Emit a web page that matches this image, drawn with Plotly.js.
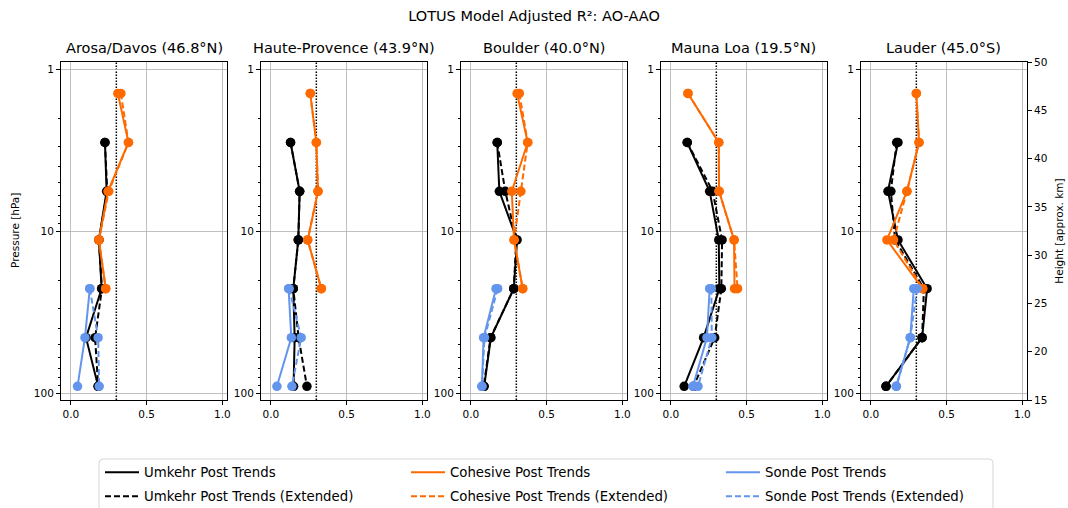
<!DOCTYPE html>
<html><head><meta charset="utf-8">
<script src="https://cdn.plot.ly/plotly-3.0.1.min.js"></script>
<style>html,body{margin:0;padding:0;background:#fff}#chart{width:1068px;height:508px}</style>
</head><body><div id="chart"></div>
<script>
// ---- data ----
const stations = ["Arosa/Davos (46.8°N)", "Haute-Provence (43.9°N)", "Boulder (40.0°N)", "Mauna Loa (19.5°N)", "Lauder (45.0°S)"];
const pressure = [1.41, 2.83, 5.66, 11.3, 22.6, 45.3, 90.5];
const umkehr = [
  [null, 0.225, 0.236, 0.185, 0.203, 0.100, 0.180],
  [null, 0.130, 0.190, 0.181, 0.148, 0.157, 0.150],
  [null, 0.174, 0.188, 0.305, 0.283, 0.132, 0.088],
  [null, 0.108, 0.256, 0.316, 0.320, 0.216, 0.088],
  [null, 0.179, 0.113, 0.179, 0.371, 0.338, 0.100]
];
const umkehrExt = [
  [null, 0.225, 0.240, 0.185, 0.205, 0.160, 0.180],
  [null, 0.130, 0.190, 0.181, 0.148, 0.183, 0.238],
  [null, 0.174, 0.227, 0.300, 0.283, 0.130, 0.085],
  [null, 0.108, 0.276, 0.338, 0.333, 0.289, 0.150],
  [null, 0.170, 0.132, 0.160, 0.350, 0.338, 0.100]
];
const cohesive = [
  [0.310, 0.380, 0.245, 0.185, 0.230, null, null],
  [0.260, 0.300, 0.311, 0.243, 0.333, null, null],
  [0.305, 0.375, 0.270, 0.285, 0.342, null, null],
  [0.113, 0.316, 0.318, 0.417, 0.420, null, null],
  [0.300, 0.318, 0.238, 0.106, 0.342, null, null]
];
const cohesiveExt = [
  [0.330, 0.380, 0.250, 0.185, 0.230, null, null],
  [0.260, 0.300, 0.311, 0.243, 0.333, null, null],
  [0.320, 0.375, 0.330, 0.285, 0.342, null, null],
  [0.113, 0.316, 0.318, 0.417, 0.440, null, null],
  [0.300, 0.318, 0.238, 0.150, 0.342, null, null]
];
const sonde = [
  [null, null, null, null, 0.125, 0.093, 0.044],
  [null, null, null, null, 0.117, 0.135, 0.040],
  [null, null, null, null, 0.166, 0.084, 0.073],
  [null, null, null, null, 0.256, 0.238, 0.146],
  [null, null, null, null, 0.283, 0.260, 0.168]
];
const sondeExt = [
  [null, null, null, null, 0.125, 0.180, 0.187],
  [null, null, null, null, 0.121, 0.200, 0.139],
  [null, null, null, null, 0.177, 0.090, 0.073],
  [null, null, null, null, 0.267, 0.270, 0.179],
  [null, null, null, null, 0.305, 0.260, 0.168]
];
const threshold = 0.3;
const heightRange = [15, 50];
const xTicks = [0, 0.5, 1.0];
const xTickText = ["0.0", "0.5", "1.0"];
const pTicks = [1, 10, 100];
const pTickText = ["1", "10", "100"];

// ---- style ----
const FONT = "DejaVu Sans, sans-serif";
const C_UMK = "#000000", C_COH = "#ff6a00", C_SON = "#6495ed";
const DASH = "6px,3px";
const series = [
  {data: umkehr,      name: "Umkehr Post Trends",              color: C_UMK, dash: "solid", col: 0, row: 0},
  {data: umkehrExt,   name: "Umkehr Post Trends (Extended)",   color: C_UMK, dash: DASH,    col: 0, row: 1},
  {data: cohesive,    name: "Cohesive Post Trends",            color: C_COH, dash: "solid", col: 1, row: 0},
  {data: cohesiveExt, name: "Cohesive Post Trends (Extended)", color: C_COH, dash: DASH,    col: 1, row: 1},
  {data: sonde,       name: "Sonde Post Trends",               color: C_SON, dash: "solid", col: 2, row: 0},
  {data: sondeExt,    name: "Sonde Post Trends (Extended)",    color: C_SON, dash: DASH,    col: 2, row: 1}
];

const W = 1068, H = 508;
const plotTop = 62, plotBot = 400, panelW = 166, panelStep = 200, firstLeft = 61;
const yDom = [1 - plotBot / H, 1 - plotTop / H];
const legendColX = [105, 411, 726];   // px, start of legend line sample
const legendRowY = [471, 495];        // px, centre of legend rows

const traces = [];
stations.forEach((st, i) => {
  const sfx = i === 0 ? "" : String(i + 1);
  series.forEach(s => {
    traces.push({
      x: s.data[i], y: pressure, xaxis: "x" + sfx, yaxis: "y" + sfx,
      type: "scatter", mode: "lines+markers", name: s.name, showlegend: false,
      line: {color: s.color, width: 2, dash: s.dash},
      marker: {color: s.color, size: 9.5},
      connectgaps: false, hoverinfo: "x+y+name"
    });
  });
});

const layout = {
  width: W, height: H, margin: {l: 0, r: 0, t: 0, b: 0, autoexpand: false},
  paper_bgcolor: "#fff", plot_bgcolor: "#fff",
  font: {family: FONT, size: 10.5, color: "#000"},
  title: {text: "LOTUS Model Adjusted R²: AO-AAO", x: 0.5, xref: "container", xanchor: "center",
          y: 1 - 16 / H, yref: "container", yanchor: "middle", font: {size: 14.5, family: FONT, color: "#000"}},
  showlegend: true,
  annotations: [], shapes: []
};

// legend entries: one small legend per entry, laid out as 3 columns x 2 rows
series.forEach((s, k) => {
  const lname = k === 0 ? "legend" : "legend" + (k + 1);
  traces.push({
    x: [null], y: [null], xaxis: "x", yaxis: "y", type: "scatter", mode: "lines",
    name: s.name, showlegend: true, legend: lname,
    line: {color: s.color, width: 2, dash: s.dash}, hoverinfo: "skip"
  });
  layout[lname] = {
    x: (legendColX[s.col] - 5) / W, xanchor: "left",
    y: 1 - (legendRowY[s.row] - 14) / H, yanchor: "top",
    borderwidth: 0, bgcolor: "rgba(0,0,0,0)", itemwidth: 34,
    font: {size: 13.3, family: FONT, color: "#000"}
  };
});
// legend frame (rounded box as in the reference)
(function () {
  const x0 = 99 / W, x1 = 993 / W, y1 = 1 - 459 / H, y0 = -0.05;
  const rx = 4 / W, ry = 4 / H;
  layout.shapes.push({
    type: "path", xref: "paper", yref: "paper", layer: "below",
    path: `M ${x0 + rx} ${y1} L ${x1 - rx} ${y1} Q ${x1} ${y1} ${x1} ${y1 - ry} L ${x1} ${y0} L ${x0} ${y0} L ${x0} ${y1 - ry} Q ${x0} ${y1} ${x0 + rx} ${y1} Z`,
    line: {color: "#d6d6d6", width: 1}, fillcolor: "rgba(255,255,255,0.8)"
  });
})();

const minorVals = [];
[1, 10].forEach(d => { for (let k = 2; k <= 9; k++) minorVals.push(d * k); });

stations.forEach((st, i) => {
  const sfx = i === 0 ? "" : String(i + 1);
  const l = (firstLeft + i * panelStep) / W, r = (firstLeft + i * panelStep + panelW) / W;
  layout["xaxis" + sfx] = {
    domain: [l, r], anchor: "y" + sfx, range: [-0.065, 1.03],
    tickmode: "array", tickvals: xTicks, ticktext: xTickText, ticks: "outside", ticklen: 4, tickcolor: "#000",
    showgrid: true, gridcolor: "#b0b0b0", gridwidth: 0.8, zeroline: false,
    showline: true, linecolor: "#000", linewidth: 1, mirror: true,
    tickfont: {size: 10.5, family: FONT, color: "#000"}
  };
  layout["yaxis" + sfx] = {
    domain: yDom, anchor: "x" + sfx, type: "log", range: [2.041, -0.045],
    tickmode: "array", tickvals: pTicks, ticktext: pTickText, ticks: "outside", ticklen: 4, tickcolor: "#000",
    minor: {tickmode: "array", tickvals: minorVals, ticks: "outside", ticklen: 2, tickcolor: "#000", showgrid: false},
    showgrid: true, gridcolor: "#b0b0b0", gridwidth: 0.8, zeroline: false,
    showline: true, linecolor: "#000", linewidth: 1, mirror: true,
    tickfont: {size: 10.5, family: FONT, color: "#000"}
  };
  layout.annotations.push({
    text: st, xref: "paper", yref: "paper", x: (l + r) / 2, y: 1 - 48 / H,
    xanchor: "center", yanchor: "middle", showarrow: false, font: {size: 14.5, family: FONT, color: "#000"}
  });
  layout.shapes.push({
    type: "line", xref: "x" + sfx, yref: "y" + sfx + " domain", x0: threshold, x1: threshold, y0: 0, y1: 1,
    line: {color: "#000", width: 1.5, dash: "1.5px,1.5px"}, layer: "below"
  });
});
// left axis label
layout.annotations.push({
  text: "Pressure [hPa]", xref: "paper", yref: "paper", x: 15 / W, y: (yDom[0] + yDom[1]) / 2,
  xanchor: "center", yanchor: "middle", textangle: -90, showarrow: false,
  font: {size: 10.5, family: FONT, color: "#000"}
});

// right-hand height axis
traces.push({x: [null], y: [null], xaxis: "x5", yaxis: "y6", type: "scatter", mode: "lines", showlegend: false, hoverinfo: "skip"});
layout.yaxis6 = {
  overlaying: "y5", side: "right", anchor: "x5", range: heightRange,
  tickmode: "linear", tick0: 15, dtick: 5, ticks: "outside", ticklen: 4, tickcolor: "#000",
  showgrid: false, zeroline: false, showline: true, linecolor: "#000", linewidth: 1,
  tickfont: {size: 10.5, family: FONT, color: "#000"},
  title: {text: "Height [approx. km]", font: {size: 10.5, family: FONT, color: "#000"}}
};

Plotly.newPlot("chart", traces, layout, {displayModeBar: false, staticPlot: true});
</script>
</body></html>
